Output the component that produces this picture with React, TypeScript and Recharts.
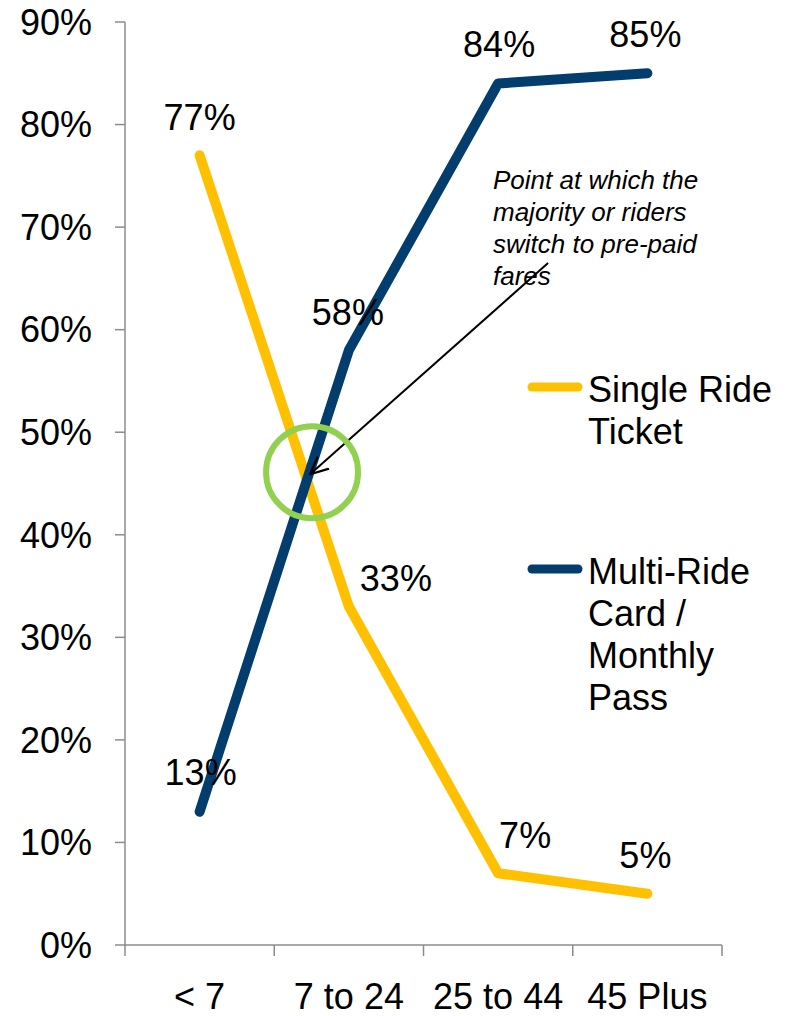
import React from "react";
import {
  ComposedChart,
  Line,
  XAxis,
  YAxis,
  Legend,
  LabelList,
  ReferenceDot,
  ReferenceLine,
} from "recharts";

// age groups on the x axis
const ageGroups = ["< 7", "7 to 24", "25 to 44", "45 Plus"];

// share of riders (%)
const singleRide = [77, 33, 7, 5];
const multiRide = [13, 58, 84, 85];

const seriesNames = ["Single Ride Ticket", "Multi-Ride Card / Monthly Pass"];

const yTicks = [0, 10, 20, 30, 40, 50, 60, 70, 80, 90];

const data = ageGroups.map((age, i) => ({
  age,
  single: singleRide[i],
  multi: multiRide[i],
}));

const FONT = "'Liberation Sans', Arial, Helvetica, sans-serif";
const YELLOW = "#FFC000";
const NAVY = "#023D6D";
const GREEN = "#92D050";
const AXIS = "#8C8C8C";
const LABEL_GAP = 38;

// label nudges, per point (px)
const singleNudge = [
  [0, -38],
  [47, -28],
  [27, -38],
  [-2, -38],
];
const multiNudge = [
  [1, -39],
  [-1, -38],
  [1, -39],
  [-2, -39],
];

const makeLabel =
  (nudge: number[][]) =>
  (props: any) => {
    const { x, y, value, index } = props;
    const [dx, dy] = nudge[index] || [0, -38];
    return (
      <text
        x={x + dx}
        y={y + dy}
        textAnchor="middle"
        dominantBaseline="central"
        fontSize={36}
        fontFamily={FONT}
        fill="#000"
      >
        {value}%
      </text>
    );
  };

// category label in the band centre, tick marks on the band edges
const AgeTick = (props: any) => {
  const { x, y, payload, index, visibleTicksCount } = props;
  const half = payload && payload.offset ? payload.offset : 0;
  const axisY = y - LABEL_GAP;
  return (
    <g>
      <line
        x1={x - half}
        x2={x - half}
        y1={axisY}
        y2={axisY + 11}
        stroke={AXIS}
        strokeWidth={1.5}
      />
      {index === visibleTicksCount - 1 && (
        <line
          x1={x + half}
          x2={x + half}
          y1={axisY}
          y2={axisY + 11}
          stroke={AXIS}
          strokeWidth={1.5}
        />
      )}
      <text
        x={x}
        y={y}
        dy="0.71em"
        textAnchor="middle"
        fontSize={36}
        fontFamily={FONT}
        fill="#000"
      >
        {payload.value}
      </text>
    </g>
  );
};

const renderLegend = (props: any) => {
  const payload = [...(props.payload || [])].sort(
    (a: any, b: any) => seriesNames.indexOf(a.value) - seriesNames.indexOf(b.value)
  );
  return (
    <div style={{ fontFamily: FONT, fontSize: 36, lineHeight: "42px", color: "#000" }}>
      {payload.map((entry: any, i: number) => (
        <div
          key={i}
          style={{ display: "flex", marginBottom: i === 0 ? 98 : 0 }}
        >
          <svg width={61} height={42} style={{ flex: "none" }}>
            <line
              x1={5}
              y1={18}
              x2={51}
              y2={18}
              stroke={entry.color}
              strokeWidth={9}
              strokeLinecap="round"
            />
          </svg>
          <div style={{ width: 196 }}>{entry.value}</div>
        </div>
      ))}
    </div>
  );
};

export default function App() {
  return (
    <div
      style={{
        position: "absolute",
        left: 0,
        top: 0,
        width: 790,
        height: 1016,
        background: "#fff",
      }}
    >
      <svg width={0} height={0} style={{ position: "absolute" }}>
        <defs>
          <marker
            id="arrowHead"
            viewBox="0 0 10 10"
            refX={9.5}
            refY={5}
            markerWidth={19}
            markerHeight={19}
            markerUnits="userSpaceOnUse"
            orient="auto"
          >
            <path
              d="M0,0.6 L9.5,5 L0,9.4"
              fill="none"
              stroke="#000"
              strokeWidth={1.2}
            />
          </marker>
        </defs>
      </svg>

      <ComposedChart
        width={790}
        height={1016}
        data={data}
        margin={{ top: 22, right: 68, left: 0, bottom: 0 }}
      >
        <XAxis
          dataKey="age"
          scale="band"
          stroke={AXIS}
          strokeWidth={1.5}
          tickLine={false}
          tickSize={0}
          tickMargin={LABEL_GAP}
          height={71}
          interval={0}
          tick={<AgeTick />}
        />
        {/* hidden index axis, used to place the annotation between categories */}
        <XAxis
          xAxisId="pos"
          type="number"
          domain={[0, 3]}
          allowDataOverflow
          hide
        />
        <YAxis
          domain={[0, 90]}
          ticks={yTicks}
          width={125}
          tickSize={10}
          tickMargin={23}
          stroke={AXIS}
          strokeWidth={1.5}
          tickFormatter={(v) => `${v}%`}
          tick={{ fill: "#000", fontSize: 36, fontFamily: FONT }}
        />

        <Line
          dataKey="single"
          name={seriesNames[0]}
          stroke={YELLOW}
          strokeWidth={10}
          strokeLinecap="round"
          strokeLinejoin="round"
          dot={false}
          activeDot={false}
          isAnimationActive={false}
        >
          <LabelList dataKey="single" content={makeLabel(singleNudge)} />
        </Line>
        <Line
          dataKey="multi"
          name={seriesNames[1]}
          stroke={NAVY}
          strokeWidth={10}
          strokeLinecap="round"
          strokeLinejoin="round"
          dot={false}
          activeDot={false}
          isAnimationActive={false}
        >
          <LabelList dataKey="multi" content={makeLabel(multiNudge)} />
        </Line>

        {/* crossover annotation */}
        <ReferenceDot
          xAxisId="pos"
          x={0.94}
          y={46.1}
          r={46}
          fill="none"
          stroke={GREEN}
          strokeWidth={6}
          ifOverflow="visible"
        />
        <ReferenceLine
          xAxisId="pos"
          segment={[
            { x: 2.126, y: 66.5 },
            { x: 0.93, y: 45.9 },
          ]}
          stroke="#000"
          strokeWidth={2}
          markerEnd="url(#arrowHead)"
          ifOverflow="visible"
        />

        <Legend
          layout="vertical"
          align="center"
          verticalAlign="middle"
          content={renderLegend}
          wrapperStyle={{ left: 527, top: 369, width: 263 }}
        />
      </ComposedChart>

      <div
        style={{
          position: "absolute",
          left: 493,
          top: 164,
          width: 215,
          fontFamily: FONT,
          fontStyle: "italic",
          fontSize: 26,
          lineHeight: "32px",
          color: "#000",
        }}
      >
        Point at which the majority or riders switch to pre-paid fares
      </div>
    </div>
  );
}
